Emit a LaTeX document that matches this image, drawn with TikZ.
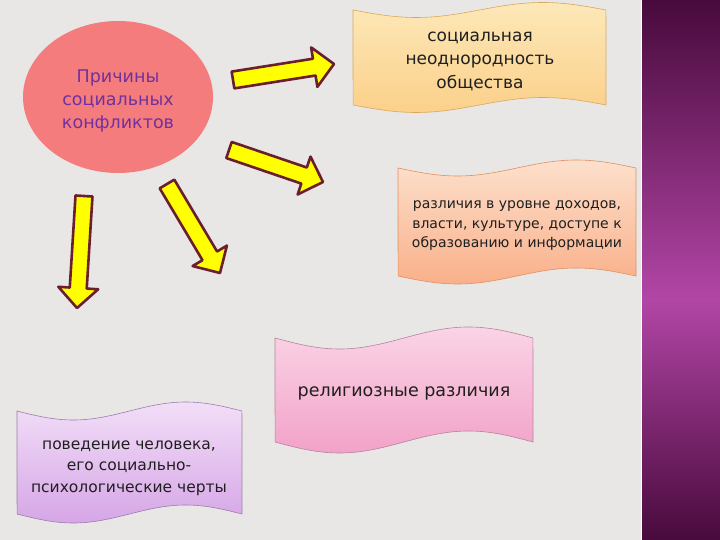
\documentclass[tikz,border=0pt]{standalone}
\usepackage{fontspec}
\setmainfont{DejaVu Sans}
\usetikzlibrary{calc,shapes.geometric}

\definecolor{bg}{HTML}{E8E7E5}
\definecolor{barDark}{HTML}{480A3C}
\definecolor{barLight}{HTML}{B246A6}
\definecolor{causeFill}{HTML}{F47C7C}
\definecolor{causeText}{HTML}{7030A0}
\definecolor{arrowFill}{HTML}{FFFF00}
\definecolor{arrowEdge}{HTML}{6B1F2E}
\definecolor{aTop}{HTML}{FDE8B8}
\definecolor{aBot}{HTML}{FBD08A}
\definecolor{aEdge}{HTML}{D9A85E}
\definecolor{bTop}{HTML}{FDE0CC}
\definecolor{bBot}{HTML}{F9B08A}
\definecolor{bEdge}{HTML}{E0905E}
\definecolor{cTop}{HTML}{FAD4E6}
\definecolor{cBot}{HTML}{F2A2C8}
\definecolor{cEdge}{HTML}{B8849C}
\definecolor{dTop}{HTML}{F2DEF8}
\definecolor{dBot}{HTML}{D6A6E6}
\definecolor{dEdge}{HTML}{9C7CAC}

% fat block arrow from tail #1 to tip #2
\newcommand\fatarrow[2]{%
  \draw[fat] ($(#1)!8.5pt!90:(#2)$) -- ($(#2)!20pt!(#1)!8.5pt!-90:(#1)$)
    -- ($(#2)!20pt!(#1)!20pt!-90:(#1)$) -- (#2)
    -- ($(#2)!20pt!(#1)!20pt!90:(#1)$) -- ($(#2)!20pt!(#1)!8.5pt!90:(#1)$)
    -- ($(#1)!8.5pt!-90:(#2)$) -- cycle;}

% wavy banner: x1, x2, top, bottom, amplitude, style
\newcommand\wavebox[6]{%
  \path[#6] plot[domain=0:1,samples=41,smooth] ({#1+(#2-#1)*\x},{#3+#5*sin(360*\x)})
    -- plot[domain=1:0,samples=41,smooth] ({#1+(#2-#1)*\x},{#4+#5*sin(360*\x)}) -- cycle;}

\begin{document}
\begin{tikzpicture}[x=1pt,y=-1pt,
    fat/.style={fill=arrowFill, draw=arrowEdge, line width=2.6pt, line join=round},
    boxA/.style={top color=aTop, bottom color=aBot, draw=aEdge, line width=0.6pt},
    boxB/.style={top color=bTop, bottom color=bBot, draw=bEdge, line width=0.6pt},
    boxC/.style={top color=cTop, bottom color=cBot, draw=cEdge, line width=0.6pt},
    boxD/.style={top color=dTop, bottom color=dBot, draw=dEdge, line width=0.6pt},
    txt/.style={align=center, text=black!88}]
  \fill[bg] (0,0) rectangle (720,540);
  \useasboundingbox (0,0) rectangle (720,540);
  % side bar
  \shade[top color=barDark, bottom color=barLight] (642,0) rectangle (720,300);
  \shade[top color=barLight, bottom color=barDark] (642,299.5) rectangle (720,540);
  \draw[white, line width=1pt] (641.5,0) -- (641.5,540);

  \node[ellipse, fill=causeFill, minimum width=190pt, minimum height=152pt] (cause) at (118,97) {};
  \node[align=center, text=causeText, font=\fontsize{17.5}{23}\selectfont] (causeTxt) at (118,101)
    {Причины\\социальных\\конфликтов};

  % banners
  \wavebox{353}{606}{10}{105}{7.5}{boxA}
  \node[txt, font=\fontsize{17}{23.5}\selectfont] (hetero) at (480,61)
    {социальная\\неоднородность\\общества};
  \wavebox{398}{636}{168}{276}{8}{boxB}
  \node[txt, font=\fontsize{14}{19.5}\selectfont] (gap) at (517,226)
    {различия в уровне доходов,\\власти, культуре, доступе к\\образованию и информации};
  \wavebox{275}{533}{338}{442}{11}{boxC}
  \node[txt, font=\fontsize{17.5}{21}\selectfont] (relig) at (404,393) {религиозные различия};
  \wavebox{17}{242}{411}{514}{9}{boxD}
  \node[txt, font=\fontsize{15.5}{21.5}\selectfont] (behav) at (129,468)
    {поведение человека,\\его социально-\\психологические черты};

  % arrows
  \coordinate (t1) at (233,80);  \coordinate (h1) at (334,64);
  \coordinate (t2) at (229,150); \coordinate (h2) at (323,182);
  \coordinate (t3) at (167,184); \coordinate (h3) at (220,273);
  \coordinate (t4) at (84,196);  \coordinate (h4) at (77,308);
  \fatarrow{t1}{h1}
  \fatarrow{t2}{h2}
  \fatarrow{t3}{h3}
  \fatarrow{t4}{h4}
\end{tikzpicture}
\end{document}
